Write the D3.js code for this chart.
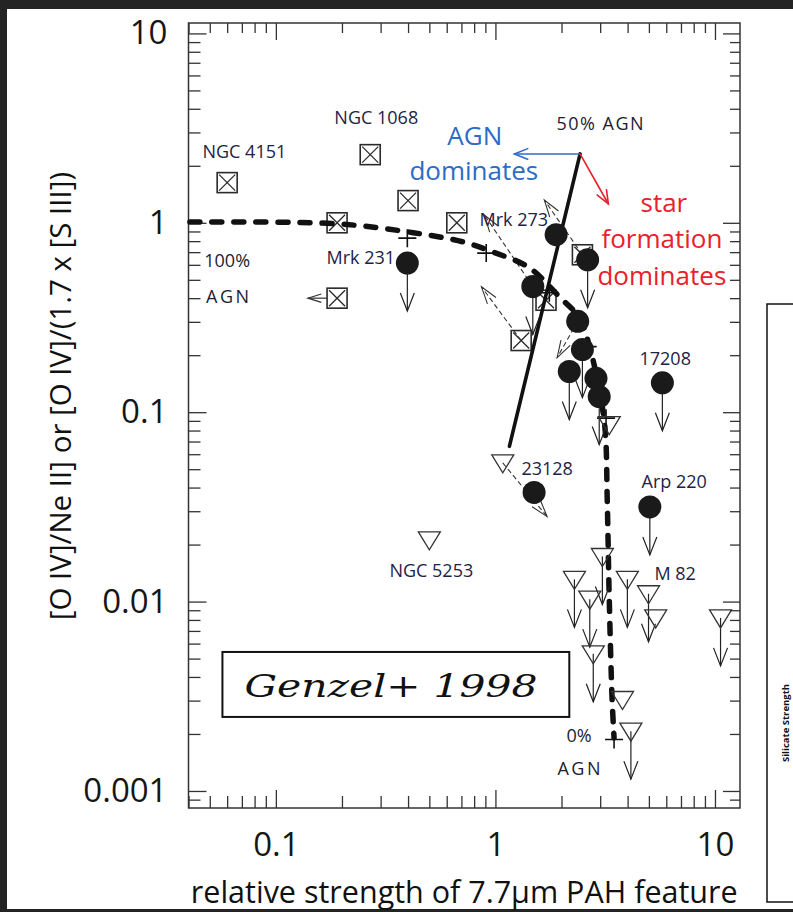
<!DOCTYPE html>
<html>
<head>
<meta charset="utf-8">
<script src="https://cdn.jsdelivr.net/npm/d3@7"></script>
<style>
  body { margin: 0; background: #fff; }
  svg { display: block; font-family: 'Open Sans', 'Noto Sans', sans-serif; }
</style>
</head>
<body>
<svg id="chart" width="793" height="912"></svg>
<script>
// tick labels
const xTickValues = [0.1, 1, 10];
const xTickLabels = ['0.1', '1', '10'];
const yTickValues = [0.001, 0.01, 0.1, 1, 10];
const yTickLabels = ['0.001', '0.01', '0.1', '1', '10'];

// crossed squares [x, y]
const boxPoints = [
  [0.060, 1.63], [0.269, 2.29], [0.40, 1.31], [0.19, 1.0], [0.667, 1.0],
  [0.19, 0.40], [2.49, 0.678], [1.70, 0.39], [1.31, 0.239]
];

// filled circles [x, y, upper limit]
const dotPoints = [
  [0.397, 0.613, true], [1.89, 0.865, false], [2.63, 0.638, true],
  [1.48, 0.461, true], [2.37, 0.302, false], [2.49, 0.214, true],
  [2.17, 0.164, true], [2.87, 0.151, false], [2.97, 0.121, true],
  [5.76, 0.143, true], [1.50, 0.0377, false], [5.05, 0.0316, true]
];

// open triangles [x, y, upper limit]
const triPoints = [
  [1.08, 0.054, false], [0.50, 0.0212, false], [3.07, 0.0173, true],
  [2.29, 0.0131, true], [3.99, 0.0131, true], [2.69, 0.0103, true],
  [4.98, 0.0110, true], [5.37, 0.0082, false], [10.6, 0.0082, true],
  [2.79, 0.0053, true], [3.79, 0.00304, false], [4.14, 0.00207, true],
  [3.30, 0.086, false]
];

// mixing line steps (+)
const mixSteps = [
  [0.397, 0.830], [0.908, 0.692], [1.76, 0.427], [2.63, 0.222], [3.19, 0.093], [3.47, 0.00187]
];

// mixing curve, 100% AGN to 0% AGN
const mixCurve = [
  [0.0406, 1.01], [0.189, 0.988], [0.398, 0.896], [0.708, 0.794], [0.969, 0.703],
  [1.427, 0.579], [1.954, 0.407], [2.41, 0.315], [2.67, 0.227], [2.97, 0.1315],
  [3.16, 0.0809], [3.23, 0.0345], [3.30, 0.01025], [3.40, 0.00304], [3.47, 0.00191]
];

// 50% AGN line
const halfLine = [[1.158, 0.066], [2.43, 2.31]];
const agnArrowTip = [1.22, 2.31];
const sfArrowTip = [3.27, 1.257];

// dashed shift vectors [from, to]
const shiftVectors = [
  [[1.31, 0.239], [0.864, 0.459]],
  [[1.48, 0.461], [0.891, 1.10]],
  [[2.49, 0.678], [1.67, 1.32]],
  [[1.08, 0.054], [1.72, 0.0281]],
  [[2.37, 0.302], [1.91, 0.194]]
];
const leftLimit = [[0.19, 0.40], [0.140, 0.40]];

// object names
const pointLabels = [
  ['NGC 4151', 0.0463, 2.20], ['NGC 1068', 0.1847, 3.32], ['Mrk 273', 0.846, 0.962],
  ['Mrk 231', 0.170, 0.606], ['17208', 4.53, 0.1775], ['23128', 1.314, 0.0466],
  ['Arp 220', 4.63, 0.0398], ['NGC 5253', 0.329, 0.01349], ['M 82', 5.30, 0.0130]
];
const mixLabels = [
  ['100%', 0.0472, 0.584, 0], ['AGN', 0.0481, 0.377, 2.5],
  ['0%', 2.106, 0.001816, 0], ['AGN', 1.916, 0.001216, 2.5],
  ['50% AGN', 1.897, 3.09, 1.5]
];
const agnText = [['AGN', 0.604, 2.57], ['dominates', 0.4056, 1.683]];
const sfText = [['star', 4.58, 1.14], ['formation', 3.04, 0.736], ['dominates', 2.915, 0.469]];
const genzelBox = [[0.0571, 0.00542], [2.17, 0.00246]];

const W = 793, H = 912;
const plot = { left: 188.5, right: 740, top: 23, bottom: 808 };

const svg = d3.select('#chart');

svg.append('rect').attr('width', W).attr('height', H).attr('fill', '#242424');
svg.append('rect').attr('x', 7).attr('y', 9).attr('width', W - 7).attr('height', 900).attr('fill', '#fff');

const x = d3.scaleLog().domain([0.04, 13]).range([plot.left, plot.right]);
const y = d3.scaleLog().domain([0.000813, 11.35]).range([plot.bottom, plot.top]);

const isMajor = v => Math.abs(Math.log10(v) - Math.round(Math.log10(v))) < 1e-6;
const xMinor = x.ticks().filter(v => !isMajor(v));
const yMinor = y.ticks().filter(v => !isMajor(v));
const xMajor = x.ticks().filter(isMajor);
const yMajor = y.ticks().filter(isMajor);

function addAxis(axis, tx, ty) {
  const g = svg.append('g')
    .attr('transform', `translate(${tx},${ty})`)
    .call(axis);
  g.select('.domain').remove();
  g.selectAll('line').attr('stroke', '#333').attr('stroke-width', 1.3);
  g.selectAll('text')
    .attr('fill', '#161616')
    .style('font-size', '33px')
    .style('font-family', "'Open Sans', sans-serif");
  return g;
}

addAxis(d3.axisLeft(y).tickValues(yTickValues).tickFormat((d, i) => yTickLabels[i]).tickSize(-18).tickPadding(21), plot.left, 0);
addAxis(d3.axisLeft(y).tickValues(yMinor).tickFormat('').tickSize(-12), plot.left, 0);
addAxis(d3.axisBottom(x).tickValues(xTickValues).tickFormat((d, i) => xTickLabels[i]).tickSize(-18).tickPadding(25), 0, plot.bottom);
addAxis(d3.axisBottom(x).tickValues(xMinor).tickFormat('').tickSize(-12), 0, plot.bottom);
addAxis(d3.axisTop(x).tickValues(xMajor).tickFormat('').tickSize(-17), 0, plot.top);
addAxis(d3.axisTop(x).tickValues(xMinor).tickFormat('').tickSize(-10), 0, plot.top);
addAxis(d3.axisRight(y).tickValues(yMajor).tickFormat('').tickSize(-17), plot.right, 0);
addAxis(d3.axisRight(y).tickValues(yMinor).tickFormat('').tickSize(-10), plot.right, 0);

svg.append('rect')
  .attr('x', plot.left).attr('y', plot.top)
  .attr('width', plot.right - plot.left).attr('height', plot.bottom - plot.top)
  .attr('fill', 'none').attr('stroke', '#333').attr('stroke-width', 1.5);

// axis titles
svg.append('text')
  .attr('transform', `translate(71,396) rotate(-90)`)
  .attr('text-anchor', 'middle')
  .style('font-size', '29.5px')
  .attr('fill', '#111')
  .text('[O IV]/Ne II] or [O IV]/(1.7 x [S III])');

svg.append('text')
  .attr('x', (plot.left + plot.right) / 2).attr('y', 903)
  .attr('text-anchor', 'middle')
  .style('font-size', '30.5px')
  .attr('fill', '#111')
  .text('relative strength of 7.7\u03bcm PAH feature');

// open arrow head at (x2,y2) pointing away from (x1,y1)
function headPath(x1, y1, x2, y2, len, spread) {
  const a = Math.atan2(y2 - y1, x2 - x1);
  const p1 = [x2 - len * Math.cos(a - spread), y2 - len * Math.sin(a - spread)];
  const p2 = [x2 - len * Math.cos(a + spread), y2 - len * Math.sin(a + spread)];
  return `M${p1[0]},${p1[1]}L${x2},${y2}L${p2[0]},${p2[1]}`;
}

function arrow(g, from, to, opts) {
  const x1 = x(from[0]), y1 = y(from[1]), x2 = x(to[0]), y2 = y(to[1]);
  g.append('line')
    .attr('x1', x1).attr('y1', y1).attr('x2', x2).attr('y2', y2)
    .attr('stroke', opts.color).attr('stroke-width', opts.width)
    .attr('stroke-dasharray', opts.dash || null);
  g.append('path')
    .attr('d', headPath(x1, y1, x2, y2, opts.len, opts.spread))
    .attr('fill', 'none').attr('stroke', opts.color).attr('stroke-width', opts.width);
}

const layer = svg.append('g');

// squares
const sq = layer.selectAll('g.sq').data(boxPoints).join('g')
  .attr('class', 'sq')
  .attr('transform', d => `translate(${x(d[0])},${y(d[1])})`);
sq.append('rect').attr('x', -10).attr('y', -10).attr('width', 20).attr('height', 20)
  .attr('fill', '#fff').attr('stroke', '#2a2a2a').attr('stroke-width', 1.6);
sq.append('path').attr('d', 'M-8,-8L8,8M8,-8L-8,8')
  .attr('stroke', '#2a2a2a').attr('stroke-width', 1.3);

// dashed shift vectors
shiftVectors.forEach(v => arrow(layer, v[0], v[1], { color: '#333', width: 1.1, dash: '5,3', len: 18, spread: 0.3 }));
arrow(layer, [leftLimit[0][0] * 0.9, leftLimit[0][1]], leftLimit[1], { color: '#333', width: 1.2, len: 14, spread: 0.3 });

// 50% AGN line and direction arrows
layer.append('line')
  .attr('x1', x(halfLine[0][0])).attr('y1', y(halfLine[0][1]))
  .attr('x2', x(halfLine[1][0])).attr('y2', y(halfLine[1][1]))
  .attr('stroke', '#111').attr('stroke-width', 3.6).attr('stroke-linecap', 'round');
arrow(layer, halfLine[1], agnArrowTip, { color: '#2f6fc4', width: 1.6, len: 15, spread: 0.38 });
arrow(layer, halfLine[1], sfArrowTip, { color: '#e8212b', width: 1.6, len: 15, spread: 0.38 });

// mixing curve
const curve = d3.line().x(d => x(d[0])).y(d => y(d[1])).curve(d3.curveCatmullRom);
layer.append('path')
  .attr('d', curve(mixCurve))
  .attr('fill', 'none').attr('stroke', '#111').attr('stroke-width', 5.5)
  .attr('stroke-linecap', 'round').attr('stroke-dasharray', '10,12');

// plus markers
layer.selectAll('path.plus').data(mixSteps).join('path')
  .attr('class', 'plus')
  .attr('d', d => `M${x(d[0]) - 9},${y(d[1])}h18M${x(d[0])},${y(d[1]) - 9}v18`)
  .attr('stroke', '#111').attr('stroke-width', 1.6);

// upper limit arrows
const LIM = 48;
function limitArrow(d) {
  const cx = x(d[0]), cy = y(d[1]);
  layer.append('line').attr('x1', cx).attr('y1', cy).attr('x2', cx).attr('y2', cy + LIM)
    .attr('stroke', '#222').attr('stroke-width', 1.2);
  layer.append('path').attr('d', `M${cx - 7},${cy + LIM - 18}L${cx},${cy + LIM}L${cx + 7},${cy + LIM - 18}`)
    .attr('fill', 'none').attr('stroke', '#222').attr('stroke-width', 1.2);
}
triPoints.filter(d => d[2]).forEach(limitArrow);
dotPoints.filter(d => d[2]).forEach(limitArrow);

// triangles
layer.selectAll('path.tri').data(triPoints).join('path')
  .attr('class', 'tri')
  .attr('d', d => `M${x(d[0]) - 11},${y(d[1]) - 8}L${x(d[0]) + 11},${y(d[1]) - 8}L${x(d[0])},${y(d[1]) + 10}Z`)
  .attr('fill', 'none').attr('stroke', '#333').attr('stroke-width', 1.3);

// circles
layer.selectAll('circle.dot').data(dotPoints).join('circle')
  .attr('class', 'dot')
  .attr('cx', d => x(d[0])).attr('cy', d => y(d[1])).attr('r', 11.5)
  .attr('fill', '#1a1a1a');

// labels
svg.selectAll('text.pl').data(pointLabels).join('text')
  .attr('class', 'pl')
  .attr('x', d => x(d[1])).attr('y', d => y(d[2]))
  .style('font-size', '18px').attr('fill', '#1d2346')
  .text(d => d[0]);

svg.selectAll('text.ml').data(mixLabels).join('text')
  .attr('class', 'ml')
  .attr('x', d => x(d[1])).attr('y', d => y(d[2]))
  .style('font-size', '18px').attr('fill', '#1d1d30')
  .attr('letter-spacing', d => d[3])
  .text(d => d[0]);

svg.selectAll('text.agn').data(agnText).join('text')
  .attr('class', 'agn')
  .attr('x', d => x(d[1])).attr('y', d => y(d[2]))
  .style('font-size', '26px').attr('fill', '#2b6cc4')
  .text(d => d[0]);

svg.selectAll('text.sf').data(sfText).join('text')
  .attr('class', 'sf')
  .attr('x', d => x(d[1])).attr('y', d => y(d[2]))
  .style('font-size', '26px').attr('fill', '#e8212b')
  .text(d => d[0]);

// Genzel box
const bx = x(genzelBox[0][0]), by = y(genzelBox[0][1]);
const bw = x(genzelBox[1][0]) - bx, bh = y(genzelBox[1][1]) - by;
svg.append('rect').attr('x', bx).attr('y', by).attr('width', bw).attr('height', bh)
  .attr('fill', '#fff').attr('stroke', '#111').attr('stroke-width', 2);
svg.append('text')
  .attr('x', bx + 22).attr('y', by + 45)
  .style('font-family', "'DejaVu Serif', serif")
  .style('font-style', 'italic')
  .style('font-size', '32px')
  .attr('fill', '#111')
  .attr('textLength', 293).attr('lengthAdjust', 'spacingAndGlyphs')
  .text('Genzel+ 1998');

// neighbouring panel, cut at the edge
svg.append('rect').attr('x', 767).attr('y', 304).attr('width', 60).attr('height', 598)
  .attr('fill', 'none').attr('stroke', '#111').attr('stroke-width', 1.5);
svg.append('text')
  .attr('transform', 'translate(789,723) rotate(-90)')
  .attr('text-anchor', 'middle')
  .style('font-size', '9.5px').style('font-weight', 'bold').attr('fill', '#111')
  .text('Silicate Strength');
</script>
</body>
</html>
